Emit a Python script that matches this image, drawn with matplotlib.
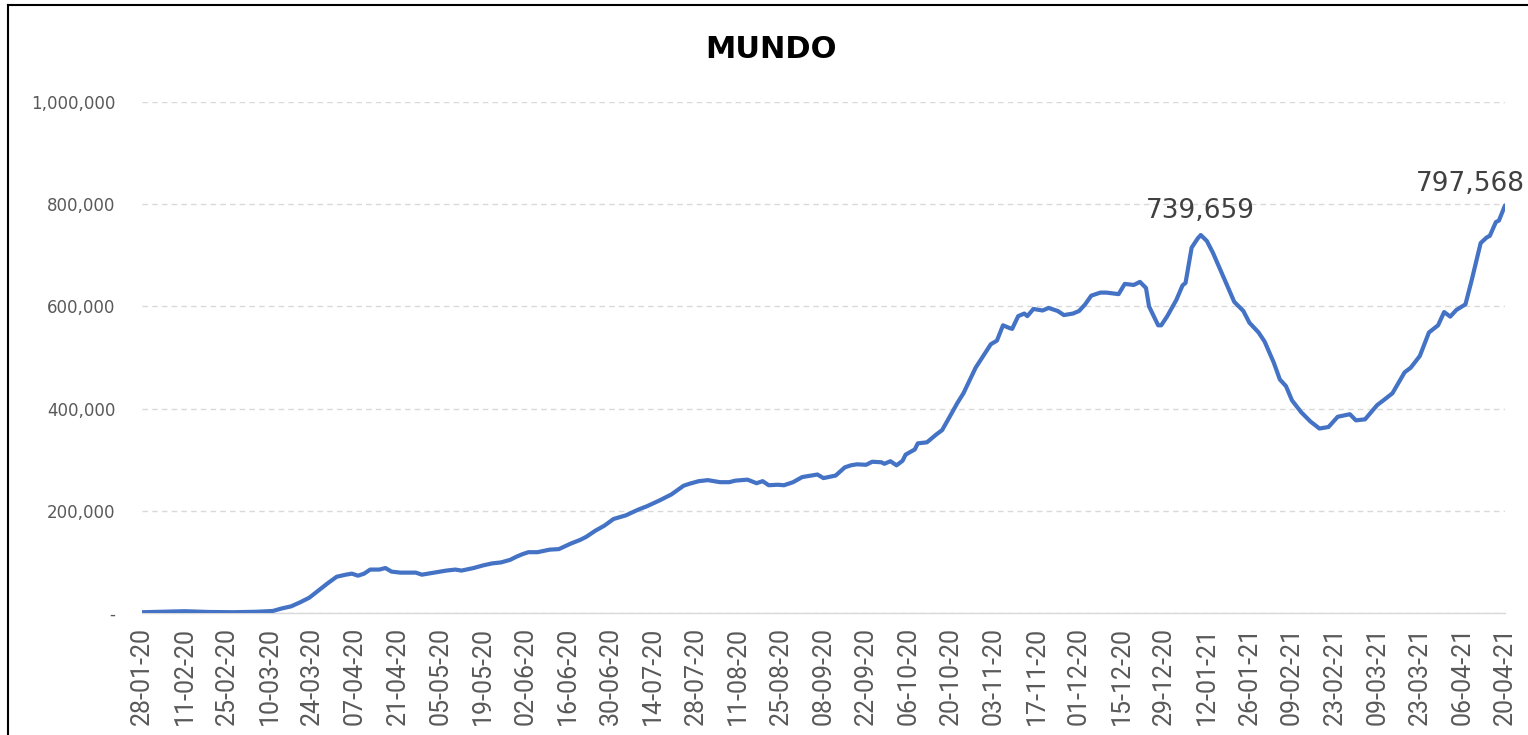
import datetime as dt
import matplotlib
matplotlib.use('Agg')
import matplotlib.pyplot as plt
import matplotlib.ticker as mticker
from matplotlib.lines import Line2D


# 7-day average of new cases
start_date = dt.date(2020, 1, 28)
day_offsets = [
    0, 7, 14, 22, 30, 38, 43, 46, 49, 52, 55, 58, 61, 64, 67, 69, 71, 73, 75, 78,
    80, 82, 85, 90, 92, 96, 100, 103, 105, 109, 112, 115, 118, 121, 123, 125, 127, 130, 134, 137,
    141, 144, 146, 149, 152, 155, 159, 163, 166, 170, 174, 178, 180, 183, 186, 190, 193, 195, 199, 202,
    204, 206, 209, 211, 214, 217, 219, 222, 224, 228, 231, 233, 235, 238, 240, 243, 244, 246, 248, 250,
    251, 254, 255, 258, 261, 263, 265, 268, 270, 274, 279, 281, 283, 285, 286, 288, 290, 291, 293, 296,
    298, 301, 303, 306, 308, 310, 312, 315, 317, 321, 323, 326, 328, 330, 331, 334, 335, 337, 340, 342,
    343, 345, 347, 348, 350, 352, 356, 359, 362, 364, 367, 369, 372, 374, 376, 378, 381, 384, 387, 390,
    393, 397, 399, 402, 404, 406, 408, 411, 415, 417, 420, 423, 426, 428, 430, 432, 435, 437, 440, 442,
    443, 445, 446, 448,
]
cases = [
    1500, 2500, 3500, 2000, 1500, 2500, 4000, 9000, 13000, 21000, 30000, 44000, 58000, 71000, 75000, 77000, 73000, 77000, 85000, 85000,
    88000, 81000, 79000, 79000, 75000, 79000, 83000, 85000, 83000, 88000, 93000, 97000, 99000, 104000, 110000, 115000, 119000, 119000, 124000, 125000,
    136000, 143000, 149000, 161000, 171000, 184000, 191000, 202000, 209000, 220000, 232000, 249000, 253000, 258000, 260000, 256000, 256000, 259000, 261000, 254000,
    258000, 250000, 251000, 250000, 256000, 266000, 268000, 271000, 264000, 269000, 285000, 289000, 291000, 290000, 296000, 295000, 292000, 297000, 289000, 298000,
    310000, 320000, 332000, 334000, 349000, 358000, 379000, 411000, 430000, 480000, 526000, 533000, 563000, 558000, 556000, 581000, 586000, 581000, 595000, 592000,
    597000, 591000, 583000, 586000, 591000, 604000, 621000, 627000, 627000, 624000, 644000, 642000, 648000, 636000, 600000, 563000, 563000, 581000, 613000, 641000,
    646000, 715000, 733000, 739659, 728000, 705000, 650000, 609000, 591000, 568000, 549000, 531000, 490000, 457000, 444000, 416000, 393000, 375000, 361000, 364000,
    384000, 389000, 377000, 379000, 393000, 407000, 416000, 430000, 471000, 480000, 503000, 549000, 563000, 589000, 580000, 593000, 604000, 650000, 724000, 735000,
    738000, 765000, 768000, 797568,
]
tick_step = 14
last_day = 448
peak_day = 348
peak_value = 739659
last_value = 797568

W, H = 1528, 735
fig = plt.figure(figsize=(W / 100, H / 100), dpi=100)
ax = fig.add_axes([142 / W, 1 - 613 / H, (1505 - 142) / W, (613 - 102) / H])

ax.plot(day_offsets, cases, color='#4472C4', linewidth=3, solid_joinstyle='round', solid_capstyle='round', zorder=3)

ax.set_xlim(0, last_day)
ax.set_ylim(0, 1000000)

# y axis, Excel accounting style
def fmt_y(v, pos):
    if v == 0:
        return '-'
    return '{:,.0f}'.format(v)

ax.yaxis.set_major_locator(mticker.MultipleLocator(200000))
ax.yaxis.set_major_formatter(mticker.FuncFormatter(fmt_y))
ax.grid(axis='y', color='#d9d9d9', linestyle=(0, (4, 3)), linewidth=1)
ax.set_axisbelow(True)

tick_days = list(range(0, last_day + 1, tick_step))
tick_labels = [(start_date + dt.timedelta(days=d)).strftime('%d-%m-%y') for d in tick_days]
ax.set_xticks(tick_days)
ax.set_xticklabels(tick_labels, rotation=90, fontsize=18, color='#595959', family='Roboto')

ax.tick_params(axis='y', length=0, pad=19, labelsize=12, labelcolor='#595959')
ax.tick_params(axis='x', length=0, pad=10)

for side in ['top', 'right', 'left']:
    ax.spines[side].set_visible(False)
ax.spines['bottom'].set_color('#d9d9d9')
ax.spines['bottom'].set_linewidth(1)

ax.annotate('{:,}'.format(peak_value), xy=(peak_day, peak_value), xytext=(0, 8),
            textcoords='offset points', ha='center', va='bottom', fontsize=19, color='#404040')
ax.annotate('{:,}'.format(last_value), xy=(last_day, last_value), xytext=(-25, 6),
            textcoords='offset points', ha='center', va='bottom', fontsize=19, color='#404040')

fig.text(771 / W, 1 - 50 / H, 'MUNDO', ha='center', va='center', fontsize=22, fontweight='bold', color='black')

# chart area border (left and top edges visible)
fig.add_artist(Line2D([7.5 / W, 7.5 / W], [0, 1 - 5 / H], color='black', linewidth=1.5))
fig.add_artist(Line2D([7.5 / W, 1], [1 - 5 / H, 1 - 5 / H], color='black', linewidth=1.5))

fig.savefig('out.png', dpi=100)
